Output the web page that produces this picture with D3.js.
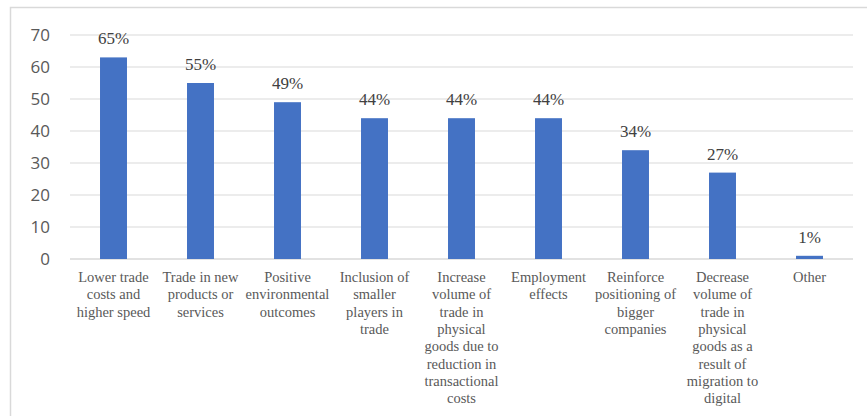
<!DOCTYPE html>
<html>
<head>
<meta charset="utf-8">
<script src="https://cdn.jsdelivr.net/npm/d3@7"></script>
<style>
  body { margin: 0; background: #fff; }
  #chart { width: 867px; height: 416px; }
  .serif { font-family: 'Liberation Serif', 'DejaVu Serif', 'Times New Roman', serif; }
  .sans { font-family: 'Open Sans', 'Liberation Sans', sans-serif; }
</style>
</head>
<body>
<div id="chart"></div>
<script>
// categories (line breaks as in the picture)
var categories = [
    'Lower trade|costs and|higher speed',
    'Trade in new|products or|services',
    'Positive|environmental|outcomes',
    'Inclusion of|smaller|players in|trade',
    'Increase|volume of|trade in|physical|goods due to|reduction in|transactional|costs',
    'Employment|effects',
    'Reinforce|positioning of|bigger|companies',
    'Decrease|volume of|trade in|physical|goods as a|result of|migration to|digital',
    'Other'
];
var barValues = [63, 55, 49, 44, 44, 44, 34, 27, 1];
var barLabels = ['65%', '55%', '49%', '44%', '44%', '44%', '34%', '27%', '1%'];
var yTicks = [0, 10, 20, 30, 40, 50, 60, 70];

var svgWidth = 867, svgHeight = 416;
var svg = d3.select('#chart')
    .append('svg')
    .attr('width', svgWidth)
    .attr('height', svgHeight);

// outer frame
svg.append('rect')
    .attr('x', 10.5).attr('y', 7.5)
    .attr('width', 880).attr('height', 430)
    .style('fill', 'none')
    .style('stroke', '#d9d9d9')
    .style('stroke-width', 1.5);

var margin = {top: 35, left: 70, right: 14, bottom: 157};
var plotW = svgWidth - margin.left - margin.right;
var plotH = svgHeight - margin.top - margin.bottom;

var g = svg.append('g')
    .attr('transform', 'translate(' + margin.left + ',' + margin.top + ')');

var xScale = d3.scaleBand()
    .domain(categories)
    .range([0, plotW])
    .padding(0);
var yScale = d3.scaleLinear()
    .domain([0, 70])
    .range([plotH, 0]);

// gridlines
g.append('g').selectAll('line')
    .data(yTicks)
    .enter()
    .append('line')
    .attr('x1', 0).attr('x2', plotW)
    .attr('y1', function (d) { return yScale(d); })
    .attr('y2', function (d) { return yScale(d); })
    .style('stroke', '#d9d9d9')
    .style('stroke-width', function (d) { return d === 0 ? 1.5 : 1.2; });

// y axis labels
var yAxis = d3.axisLeft(yScale)
    .tickValues(yTicks)
    .tickSize(0)
    .tickPadding(20);
var gy = g.append('g').call(yAxis);
gy.select('.domain').remove();
gy.attr('font-family', null).attr('font-size', null);
gy.selectAll('text')
    .attr('class', 'sans')
    .style('font-size', '17px')
    .style('fill', '#595959');

// bars
var barW = xScale.bandwidth() * 0.31;
g.selectAll('rect.bar')
    .data(barValues)
    .enter()
    .append('rect')
    .attr('class', 'bar')
    .attr('x', function (d, i) { return xScale(categories[i]) + (xScale.bandwidth() - barW) / 2; })
    .attr('y', function (d) { return yScale(d); })
    .attr('width', barW)
    .attr('height', function (d) { return plotH - yScale(d); })
    .style('fill', '#4472c4');

// value labels
g.append('g').selectAll('text')
    .data(barValues)
    .enter()
    .append('text')
    .attr('class', 'serif')
    .attr('x', function (d, i) { return xScale(categories[i]) + xScale.bandwidth() / 2; })
    .attr('y', function (d) { return yScale(d) - 13; })
    .attr('text-anchor', 'middle')
    .text(function (d, i) { return barLabels[i]; })
    .style('font-size', '17px')
    .style('fill', '#404040');

// category labels
var catG = g.append('g').selectAll('text')
    .data(categories)
    .enter()
    .append('text')
    .attr('class', 'serif')
    .attr('x', function (d) { return xScale(d) + xScale.bandwidth() / 2; })
    .attr('y', plotH + 23)
    .attr('text-anchor', 'middle')
    .style('font-size', '14.5px')
    .style('fill', '#595959');
catG.each(function (d) {
    var t = d3.select(this);
    d.split('|').forEach(function (line, k) {
        t.append('tspan')
            .attr('x', t.attr('x'))
            .attr('dy', k === 0 ? 0 : 17.3)
            .text(line);
    });
});
</script>
</body>
</html>
